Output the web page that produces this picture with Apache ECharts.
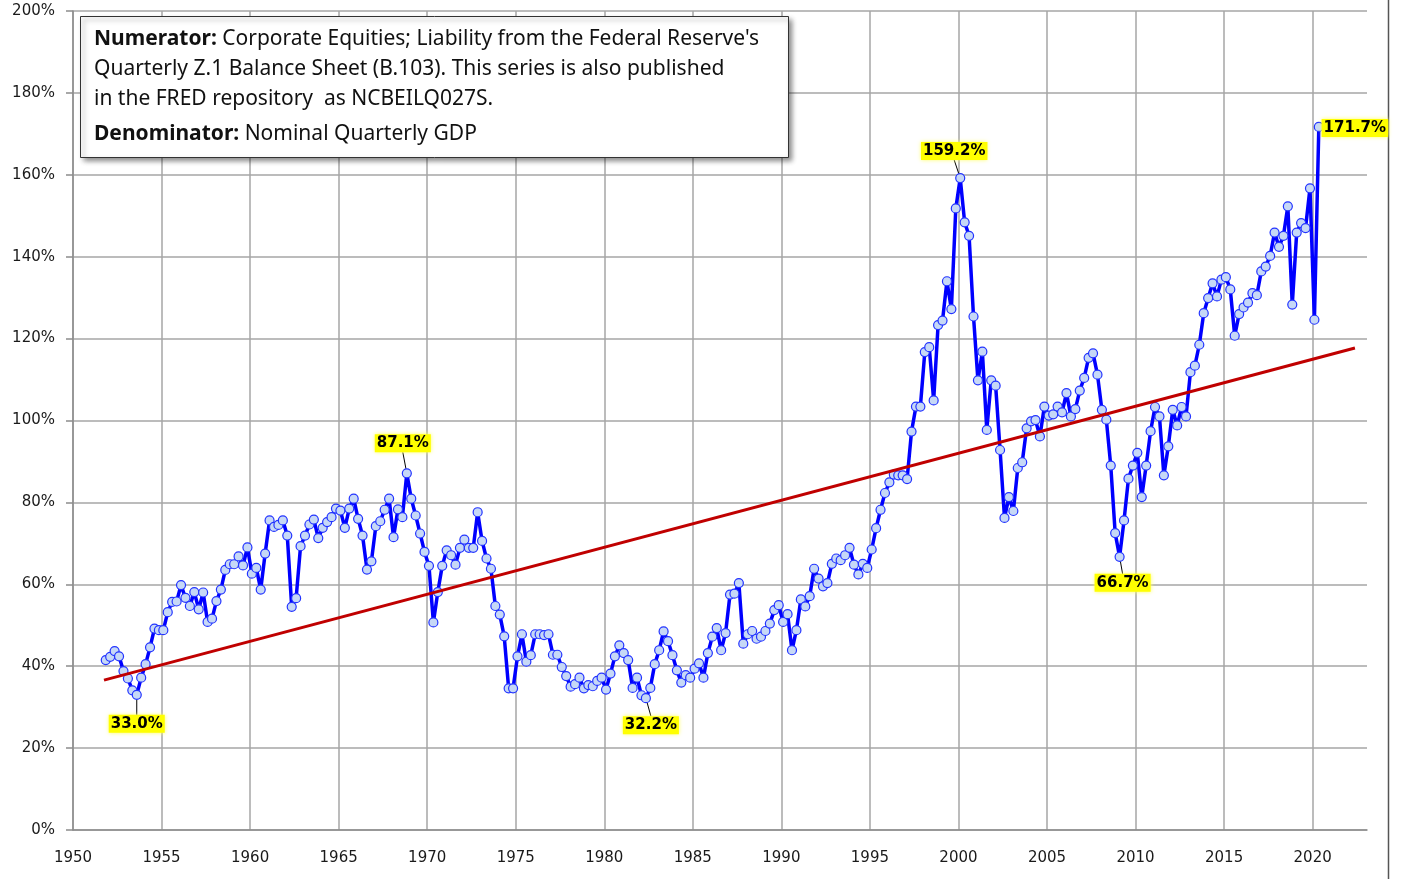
<!DOCTYPE html>
<html>
<head>
<meta charset="utf-8">
<script src="https://cdn.jsdelivr.net/npm/echarts@6/dist/echarts.min.js"></script>
<style>
  html, body { margin: 0; padding: 0; background: #fff; }
  #chart { width: 1402px; height: 879px; }
</style>
</head>
<body>
<div id="chart"></div>
<script>
// corporate equities (Z.1 B.103) as % of nominal GDP, one value per quarter, 1951 Q4 .. 2020 Q2
const firstQuarter = 1951.75;
const ratio = [
  41.5, 42.3, 43.7, 42.4, 38.8, 37.0, 34.1, 33.0, 37.2, 40.5,
  44.6, 49.2, 48.8, 48.8, 53.2, 55.7, 55.8, 59.8, 56.7, 54.7,
  58.1, 53.9, 58.0, 50.8, 51.6, 55.9, 58.7, 63.5, 64.9, 64.9,
  66.8, 64.6, 69.0, 62.6, 64.0, 58.7, 67.5, 75.6, 74.0, 74.5,
  75.6, 71.9, 54.5, 56.6, 69.3, 71.9, 74.6, 75.8, 71.3, 73.8,
  75.2, 76.4, 78.5, 78.0, 73.8, 78.5, 80.9, 76.0, 71.9, 63.6,
  65.6, 74.2, 75.4, 78.2, 80.9, 71.5, 78.3, 76.4, 87.1, 80.9,
  76.8, 72.4, 67.9, 64.5, 50.7, 58.1, 64.5, 68.3, 67.1, 64.8,
  68.9, 70.9, 68.9, 68.9, 77.6, 70.6, 66.3, 63.8, 54.7, 52.6,
  47.3, 34.6, 34.6, 42.4, 47.8, 41.1, 42.7, 47.8, 47.8, 47.6,
  47.8, 42.8, 42.8, 39.8, 37.6, 35.0, 35.6, 37.2, 34.6, 35.4,
  35.1, 36.4, 37.2, 34.3, 38.2, 42.4, 45.1, 43.2, 41.5, 34.7,
  37.2, 32.9, 32.2, 34.7, 40.5, 43.9, 48.5, 46.1, 42.7, 39.0,
  36.0, 37.8, 37.2, 39.4, 40.7, 37.2, 43.2, 47.2, 49.3, 43.9,
  48.1, 57.5, 57.7, 60.3, 45.5, 47.8, 48.6, 46.7, 47.2, 48.6,
  50.4, 53.7, 54.9, 50.8, 52.7, 43.9, 48.8, 56.3, 54.6, 57.1,
  63.8, 61.4, 59.5, 60.3, 65.0, 66.3, 65.9, 67.1, 68.9, 64.8,
  62.4, 65.0, 64.0, 68.5, 73.7, 78.2, 82.3, 84.9, 86.8, 86.6,
  86.6, 85.7, 97.3, 103.4, 103.4, 116.7, 117.9, 104.9, 123.3, 124.4,
  134.0, 127.2, 151.8, 159.2, 148.4, 145.1, 125.4, 109.8, 116.8, 97.7,
  109.8, 108.5, 92.8, 76.2, 81.3, 77.9, 88.4, 89.8, 98.1, 99.8,
  100.1, 96.1, 103.4, 101.2, 101.5, 103.4, 102.0, 106.7, 101.0, 102.8,
  107.3, 110.4, 115.3, 116.4, 111.2, 102.6, 100.2, 89.0, 72.5, 66.7,
  75.6, 85.8, 89.0, 92.1, 81.3, 89.0, 97.4, 103.3, 101.0, 86.6,
  93.7, 102.6, 98.8, 103.3, 101.0, 111.8, 113.4, 118.5, 126.2, 129.9,
  133.5, 130.3, 134.4, 135.0, 132.0, 120.7, 126.0, 127.6, 128.8, 131.1,
  130.6, 136.4, 137.6, 140.2, 145.9, 142.4, 145.1, 152.3, 128.3, 145.9,
  148.2, 147.0, 156.7, 124.6, 171.7
];

// linear trend line, runs about two years past the last quarter
const trendYears = [1951.75, 2022.39];
const trendValues = [36.6, 117.7];

// quarters that carry a value callout
const calloutQuarters = [7, 68, 122, 193, 229, 274];

// where each callout sits relative to its point (px)
const calloutOffset = {
  7: [0, 29],
  68: [-4, -30],
  122: [5, 27],
  193: [-6, -27],
  229: [3, 26],
  274: [36, 1]
};

let seriesData = [];
for (let i = 0; i < ratio.length; i++) {
  // points sit a little into their quarter, like the original
  let item = { value: [firstQuarter + i * 0.25 + 0.1, ratio[i]] };
  if (calloutQuarters.indexOf(i) >= 0) {
    item.label = { show: true };
    item.labelLine = { show: i !== 274 };
  }
  seriesData.push(item);
}

let chartDom = document.getElementById('chart');
let myChart = echarts.init(chartDom);
let option;

const axisFont = 'DejaVu Sans';
const boxFont = 'Noto Sans';

option = {
  animation: false,
  backgroundColor: '#fff',
  title: {
    left: 80,
    top: 16,
    text: '{b|Numerator:} Corporate Equities; Liability from the Federal Reserve\'s\n' +
          'Quarterly Z.1 Balance Sheet (B.103). This series is also published\n' +
          'in the FRED repository  as NCBEILQ027S.\n' +
          '{db|Denominator:}{dn| Nominal Quarterly GDP}',
    backgroundColor: '#fff',
    borderColor: '#333',
    borderWidth: 1,
    padding: [8, 30, 4, 14],
    shadowColor: 'rgba(0,0,0,0.45)',
    shadowBlur: 5,
    shadowOffsetX: 3,
    shadowOffsetY: 3,
    textStyle: {
      fontFamily: boxFont,
      fontSize: 21,
      fontWeight: 'normal',
      color: '#111',
      lineHeight: 30,
      rich: {
        b: { fontFamily: boxFont, fontSize: 21, fontWeight: 'bold', color: '#111', lineHeight: 30 },
        db: { fontFamily: boxFont, fontSize: 21, fontWeight: 'bold', color: '#111', lineHeight: 40 },
        dn: { fontFamily: boxFont, fontSize: 21, color: '#111', lineHeight: 40 }
      }
    }
  },
  grid: {
    left: 73,
    right: 35,
    top: 11,
    bottom: 49,
    containLabel: false
  },
  xAxis: {
    type: 'value',
    min: 1950,
    max: 2023.07,
    interval: 5,
    axisLine: { show: true, lineStyle: { color: '#8c8c8c', width: 1.5 } },
    axisTick: { show: false },
    axisLabel: {
      showMaxLabel: false,
      margin: 21,
      fontFamily: axisFont,
      fontSize: 15,
      color: '#1a1a1a',
      formatter: function (v) { return v % 5 === 0 ? String(v) : ''; }
    },
    splitLine: { show: true, showMaxLine: false, lineStyle: { color: '#a6a6a6', width: 1.5 } }
  },
  yAxis: {
    type: 'value',
    min: 0,
    max: 200,
    interval: 20,
    axisLine: { show: true, lineStyle: { color: '#8c8c8c', width: 1.5 } },
    axisTick: { show: true, length: 7, lineStyle: { color: '#8c8c8c', width: 1.5 } },
    axisLabel: {
      margin: 18,
      fontFamily: axisFont,
      fontSize: 15,
      color: '#1a1a1a',
      formatter: '{value}%'
    },
    splitLine: { show: true, lineStyle: { color: '#a6a6a6', width: 1.5 } }
  },
  series: [
    {
      name: 'Equities / GDP',
      type: 'line',
      data: seriesData,
      z: 2,
      symbol: 'circle',
      symbolSize: 9,
      showAllSymbol: true,
      lineStyle: { color: '#0000ff', width: 3.5 },
      itemStyle: { color: '#c6d8f6', borderColor: '#2233ff', borderWidth: 1.2 },
      label: {
        show: false,
        position: 'inside',
        formatter: function (p) { return p.value[1].toFixed(1) + '%'; },
        fontFamily: axisFont,
        fontSize: 15,
        fontWeight: 'bold',
        color: '#000',
        backgroundColor: '#ffff00',
        padding: [2, 2, 1, 2],
        shadowBlur: 4,
        shadowColor: '#ffff66'
      },
      labelLine: { show: false, lineStyle: { color: '#000', width: 1 } },
      labelLayout: function (p) {
        let off = calloutOffset[p.dataIndex];
        if (!off) return {};
        return { dx: off[0], dy: off[1] };
      },
      emphasis: { disabled: true }
    },
    {
      name: 'Trend',
      type: 'line',
      data: trendYears.map(function (x, i) { return [x, trendValues[i]]; }),
      z: 3,
      symbol: 'none',
      lineStyle: { color: '#c00000', width: 3 },
      emphasis: { disabled: true }
    }
  ],
  graphic: [
    {
      type: 'line',
      shape: { x1: 1388.5, y1: 0, x2: 1388.5, y2: 879 },
      style: { stroke: '#555', lineWidth: 1.5 }
    }
  ]
};

option && myChart.setOption(option);
</script>
</body>
</html>
